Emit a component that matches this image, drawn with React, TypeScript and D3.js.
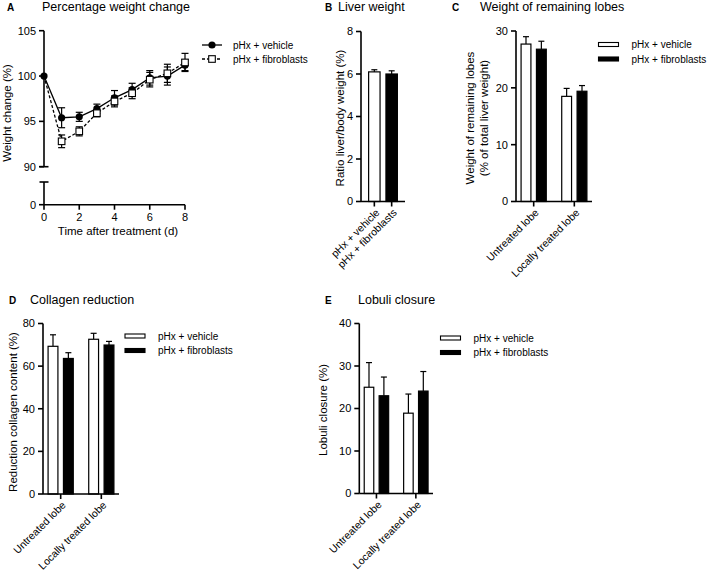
import React from "react";
import * as d3 from "d3";

const FONT = "'Liberation Sans', Arial, Helvetica, sans-serif";

// ---------- data ----------
const seriesNames = ["pHx + vehicle", "pHx + fibroblasts"];
const lobeCategories = ["Untreated lobe", "Locally treated lobe"];

const days = [0, 1, 2, 3, 4, 5, 6, 7, 8];
const dayTicks = [0, 2, 4, 6, 8];
const weightVehicle = [100, 95.4, 95.5, 96.4, 97.6, 98.5, 99.8, 100.0, 101.2];
const weightVehicleErr = [0, 1.1, 0.5, 0.5, 0.8, 0.7, 0.8, 1.0, 0.6];
const weightFibro = [100, 92.8, 93.9, 95.9, 97.2, 98.1, 99.6, 100.3, 101.5];
const weightFibroErr = [0, 0.7, 0.5, 0.4, 0.6, 0.6, 0.8, 1.0, 1.0];
const weightTicksUpper = [90, 95, 100, 105];
const weightTicksLower = [0];

const liverRatio = [6.1, 6.0];
const liverRatioErr = [0.1, 0.15];
const liverTicks = [0, 2, 4, 6, 8];

const lobesVehicle = [27.7, 18.5];
const lobesVehicleErr = [1.3, 1.4];
const lobesFibro = [26.8, 19.4];
const lobesFibroErr = [1.4, 1.0];
const lobesTicks = [0, 10, 20, 30];

const collagenVehicle = [69.3, 72.6];
const collagenVehicleErr = [5.4, 2.8];
const collagenFibro = [63.6, 69.9];
const collagenFibroErr = [2.7, 1.7];
const collagenTicks = [0, 20, 40, 60, 80];

const lobuliVehicle = [25.0, 18.9];
const lobuliVehicleErr = [5.8, 4.5];
const lobuliFibro = [23.0, 24.1];
const lobuliFibroErr = [4.4, 4.6];
const lobuliTicks = [0, 10, 20, 30, 40];

// ---------- helpers ----------
const AX = 1.6;

function YAxis({ x, y, ticks, y1, y2 }: any) {
  return (
    <g>
      <line x1={x} x2={x} y1={y1} y2={y2} stroke="#000" strokeWidth={AX} />
      {ticks.map((t: number) => (
        <g key={t}>
          <line x1={x - 5} x2={x} y1={y(t)} y2={y(t)} stroke="#000" strokeWidth={AX} />
          <text x={x - 8} y={y(t)} dy="0.35em" textAnchor="end" fontSize={11}>
            {t}
          </text>
        </g>
      ))}
    </g>
  );
}

function RotLabel({ x, y, text }: any) {
  return (
    <text
      transform={`translate(${x + 3},${y + 9}) rotate(-45)`}
      textAnchor="end"
      dominantBaseline="central"
      fontSize={10.5}
    >
      {text}
    </text>
  );
}

function BarLegend({ x, y }: any) {
  return (
    <g>
      {seriesNames.map((s, i) => (
        <g key={s}>
          <rect
            x={x}
            y={y + i * 14.5 - 2}
            width={20}
            height={4}
            fill={i === 0 ? "#fff" : "#000"}
            stroke="#000"
            strokeWidth={1.1}
          />
          <text x={x + 33} y={y + i * 14.5} dy="0.35em" fontSize={10}>
            {s}
          </text>
        </g>
      ))}
    </g>
  );
}

function GroupedBars({ left, right, top, bottom, max, ticks, vals, errs }: any) {
  const y = d3.scaleLinear([0, max], [bottom, top]);
  const x0 = d3.scaleBand(lobeCategories, [left, right]).paddingInner(0.38).paddingOuter(0.125);
  const x1 = d3.scaleBand(seriesNames, [0, x0.bandwidth()]).paddingInner(0.36);
  return (
    <g>
      {lobeCategories.map((c, ci) =>
        seriesNames.map((s, si) => {
          const v = vals[si][ci];
          const e = errs[si][ci];
          const bx = (x0(c) as number) + (x1(s) as number);
          const w = x1.bandwidth();
          const cx = bx + w / 2;
          return (
            <g key={c + s}>
              <line x1={cx} x2={cx} y1={y(v)} y2={y(v + e)} stroke="#000" strokeWidth={1.2} />
              <line x1={cx - 3} x2={cx + 3} y1={y(v + e)} y2={y(v + e)} stroke="#000" strokeWidth={1.2} />
              <rect
                x={bx}
                y={y(v)}
                width={w}
                height={bottom - y(v)}
                fill={si === 0 ? "#fff" : "#000"}
                stroke="#000"
                strokeWidth={1.2}
              />
            </g>
          );
        })
      )}
      <YAxis x={left} y={y} ticks={ticks} y1={top} y2={bottom} />
      <line x1={left} x2={right} y1={bottom} y2={bottom} stroke="#000" strokeWidth={AX} />
      {lobeCategories.map((c) => {
        const cx = (x0(c) as number) + x0.bandwidth() / 2;
        return (
          <g key={c}>
            <line x1={cx} x2={cx} y1={bottom} y2={bottom + 5} stroke="#000" strokeWidth={AX} />
            <RotLabel x={cx} y={bottom} text={c} />
          </g>
        );
      })}
    </g>
  );
}

function Title({ letter, lx, tx, y, text }: any) {
  return (
    <g>
      <text x={lx} y={y} fontSize={10} fontWeight="bold">
        {letter}
      </text>
      <text x={tx} y={y} fontSize={12.5}>
        {text}
      </text>
    </g>
  );
}

function VTitle({ x, y, text }: any) {
  return (
    <text
      transform={`translate(${x},${y}) rotate(-90)`}
      textAnchor="middle"
      dominantBaseline="central"
      fontSize={11.5}
    >
      {text}
    </text>
  );
}

// ---------- panel A ----------
function PanelA() {
  const x = d3.scaleLinear([0, 8], [44, 185]);
  const yU = d3.scaleLinear([90, 105], [166.7, 30.7]);
  const yL = d3.scaleLinear([0, 2.5], [204.7, 182]);
  const line = d3
    .line<number>()
    .x((_, i) => x(days[i]))
    .y((d) => yU(d));
  const errBars = (vals: number[], errs: number[]) =>
    vals.map((v, i) =>
      errs[i] > 0 ? (
        <g key={i}>
          <line x1={x(days[i])} x2={x(days[i])} y1={yU(v - errs[i])} y2={yU(v + errs[i])} stroke="#000" strokeWidth={1.2} />
          <line x1={x(days[i]) - 3.5} x2={x(days[i]) + 3.5} y1={yU(v + errs[i])} y2={yU(v + errs[i])} stroke="#000" strokeWidth={1.2} />
          <line x1={x(days[i]) - 3.5} x2={x(days[i]) + 3.5} y1={yU(v - errs[i])} y2={yU(v - errs[i])} stroke="#000" strokeWidth={1.2} />
        </g>
      ) : null
    );
  return (
    <g>
      <Title letter="A" lx={7} tx={42} y={11} text="Percentage weight change" />
      {/* upper segment */}
      <YAxis x={44} y={yU} ticks={weightTicksUpper} y1={30.7} y2={166.7} />
      <line x1={39.5} x2={48.5} y1={166.7} y2={166.7} stroke="#000" strokeWidth={AX} />
      {/* lower segment */}
      <YAxis x={44} y={yL} ticks={weightTicksLower} y1={182} y2={204.7} />
      <line x1={39.5} x2={48.5} y1={182} y2={182} stroke="#000" strokeWidth={AX} />
      {/* x axis */}
      <line x1={44} x2={185} y1={204.7} y2={204.7} stroke="#000" strokeWidth={AX} />
      {dayTicks.map((t) => (
        <g key={t}>
          <line x1={x(t)} x2={x(t)} y1={204.7} y2={209.7} stroke="#000" strokeWidth={AX} />
          <text x={x(t)} y={217.5} dy="0.35em" textAnchor="middle" fontSize={11}>
            {t}
          </text>
        </g>
      ))}
      <text x={118} y={231} dy="0.35em" textAnchor="middle" fontSize={11.5}>
        Time after treatment (d)
      </text>
      <VTitle x={6.5} y={113} text="Weight change (%)" />
      {errBars(weightVehicle, weightVehicleErr)}
      {errBars(weightFibro, weightFibroErr)}
      <path d={line(weightFibro) || ""} fill="none" stroke="#000" strokeWidth={1.3} strokeDasharray="3,2" />
      <path d={line(weightVehicle) || ""} fill="none" stroke="#000" strokeWidth={1.3} />
      {weightVehicle.map((v, i) => (
        <circle key={"c" + i} cx={x(days[i])} cy={yU(v)} r={3.6} fill="#000" />
      ))}
      {weightFibro.map((v, i) =>
        i === 0 ? null : (
          <rect key={"s" + i} x={x(days[i]) - 3.3} y={yU(v) - 3.3} width={6.6} height={6.6} fill="#fff" stroke="#000" strokeWidth={1.1} />
        )
      )}
      {/* legend */}
      <line x1={202} x2={222} y1={45} y2={45} stroke="#000" strokeWidth={1.3} />
      <circle cx={212} cy={45} r={3.6} fill="#000" />
      <text x={233} y={45} dy="0.35em" fontSize={10}>
        {seriesNames[0]}
      </text>
      <line x1={202} x2={222} y1={59} y2={59} stroke="#000" strokeWidth={1.3} strokeDasharray="3,2" />
      <rect x={208.7} y={55.7} width={6.6} height={6.6} fill="#fff" stroke="#000" strokeWidth={1.1} />
      <text x={233} y={59} dy="0.35em" fontSize={10}>
        {seriesNames[1]}
      </text>
    </g>
  );
}

// ---------- panel B ----------
function PanelB() {
  const left = 361;
  const right = 405;
  const top = 31.5;
  const bottom = 201.5;
  const y = d3.scaleLinear([0, 8], [bottom, top]);
  const x = d3.scaleBand(seriesNames, [left, right]).paddingInner(0.34).paddingOuter(0.44);
  return (
    <g>
      <Title letter="B" lx={325} tx={338} y={11} text="Liver weight" />
      {seriesNames.map((s, i) => {
        const v = liverRatio[i];
        const e = liverRatioErr[i];
        const bx = x(s) as number;
        const w = x.bandwidth();
        const cx = bx + w / 2;
        return (
          <g key={s}>
            <line x1={cx} x2={cx} y1={y(v)} y2={y(v + e)} stroke="#000" strokeWidth={1.2} />
            <line x1={cx - 3} x2={cx + 3} y1={y(v + e)} y2={y(v + e)} stroke="#000" strokeWidth={1.2} />
            <rect x={bx} y={y(v)} width={w} height={bottom - y(v)} fill={i === 0 ? "#fff" : "#000"} stroke="#000" strokeWidth={1.2} />
          </g>
        );
      })}
      <YAxis x={left} y={y} ticks={liverTicks} y1={top} y2={bottom} />
      <line x1={left} x2={right} y1={bottom} y2={bottom} stroke="#000" strokeWidth={AX} />
      {seriesNames.map((s) => {
        const cx = (x(s) as number) + x.bandwidth() / 2;
        return (
          <g key={s}>
            <line x1={cx} x2={cx} y1={bottom} y2={bottom + 5} stroke="#000" strokeWidth={AX} />
            <RotLabel x={cx} y={bottom} text={s} />
          </g>
        );
      })}
      <VTitle x={340} y={118} text="Ratio liver/body weight (%)" />
    </g>
  );
}

// ---------- panel C ----------
function PanelC() {
  return (
    <g>
      <Title letter="C" lx={452} tx={480} y={11} text="Weight of remaining lobes" />
      <GroupedBars
        left={516}
        right={592}
        top={31}
        bottom={201.5}
        max={30}
        ticks={lobesTicks}
        vals={[lobesVehicle, lobesFibro]}
        errs={[lobesVehicleErr, lobesFibroErr]}
      />
      <VTitle x={470} y={118} text="Weight of remaining lobes" />
      <VTitle x={484} y={118} text="(% of total liver weight)" />
      <BarLegend x={598.5} y={44.5} />
    </g>
  );
}

// ---------- panel D ----------
function PanelD() {
  return (
    <g>
      <Title letter="D" lx={9} tx={30} y={304} text="Collagen reduction" />
      <GroupedBars
        left={43}
        right={119}
        top={323.5}
        bottom={494}
        max={80}
        ticks={collagenTicks}
        vals={[collagenVehicle, collagenFibro]}
        errs={[collagenVehicleErr, collagenFibroErr]}
      />
      <VTitle x={12.5} y={412} text="Reduction collagen content (%)" />
      <BarLegend x={125} y={336} />
    </g>
  );
}

// ---------- panel E ----------
function PanelE() {
  return (
    <g>
      <Title letter="E" lx={325} tx={358} y={304} text="Lobuli closure" />
      <GroupedBars
        left={359.3}
        right={433}
        top={323.5}
        bottom={493.5}
        max={40}
        ticks={lobuliTicks}
        vals={[lobuliVehicle, lobuliFibro]}
        errs={[lobuliVehicleErr, lobuliFibroErr]}
      />
      <VTitle x={323} y={410} text="Lobuli closure (%)" />
      <BarLegend x={440.5} y={338} />
    </g>
  );
}

export default function App() {
  return (
    <svg
      width={709}
      height={574}
      viewBox="0 0 709 574"
      style={{ position: "absolute", left: 0, top: 0, background: "#fff" }}
      fontFamily={FONT}
      fill="#000"
    >
      <rect x={0} y={0} width={709} height={574} fill="#fff" />
      <PanelA />
      <PanelB />
      <PanelC />
      <PanelD />
      <PanelE />
    </svg>
  );
}
